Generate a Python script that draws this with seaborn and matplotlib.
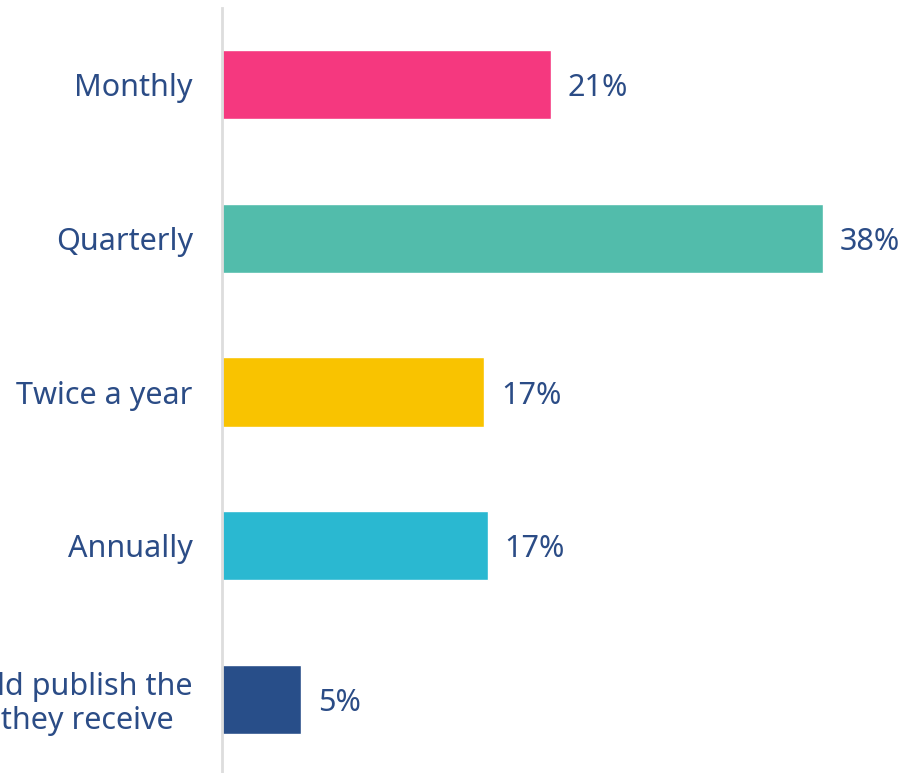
import pandas as pd
import matplotlib.pyplot as plt
import seaborn as sns

categories = ["Monthly", "Quarterly", "Twice a year", "Annually",
              "As and when - they should publish the\ninformation as soon as they receive"]
values = [20.8, 38.0, 16.6, 16.8, 5.0]
value_labels = ["21%", "38%", "17%", "17%", "5%"]
colors = ["#F5387F", "#52BCAB", "#F9C300", "#2AB8D1", "#284E89"]

TEXT = "#2B4C86"

df = pd.DataFrame({"category": categories, "value": values})

sns.set_style("white")
plt.rcParams["font.family"] = ["Noto Sans", "DejaVu Sans"]

fig = plt.figure(figsize=(9.08, 7.73), dpi=100)
ax = fig.add_axes([222 / 908, 0, 686 / 908, 765 / 773])

sns.barplot(data=df, y="category", x="value", hue="category",
            palette=colors, orient="h", width=0.45, legend=False,
            saturation=1, ax=ax)

# value labels right of each bar
for cont, lab in zip(ax.containers, value_labels):
    anns = ax.bar_label(cont, labels=[lab], padding=12, fontsize=22, color=TEXT)
    for a in anns:
        a.set_va("center_baseline")

ax.set_xlim(0, 43.4)
ax.set_ylim(4.48, -0.5)
ax.set_xlabel("")
ax.set_ylabel("")
ax.set_xticks([])
ax.tick_params(axis="y", length=0, pad=21, labelsize=22, labelcolor=TEXT)
for t in ax.get_yticklabels():
    t.set_multialignment("center")
    t.set_linespacing(1.1)

for s in ["top", "right", "bottom"]:
    ax.spines[s].set_visible(False)
ax.spines["left"].set_color("#DDDDDD")
ax.spines["left"].set_linewidth(2)

fig.savefig("out.png", dpi=100)
